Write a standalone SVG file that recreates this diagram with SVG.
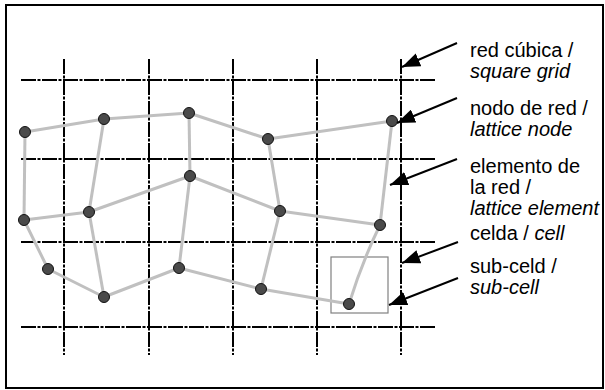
<svg xmlns="http://www.w3.org/2000/svg" width="605" height="390" viewBox="0 0 605 390">
<style>
.grid{stroke:#000;stroke-width:2;stroke-dasharray:15 1.5 3 1.5;fill:none}
.edge{stroke:#c0c0c0;stroke-width:3;fill:none;stroke-linejoin:round}
.node{fill:#4a4a4a;stroke:#111;stroke-width:1}
.lead{stroke:#000;stroke-width:2;fill:none}
.t{font-family:"Liberation Sans",Arial,sans-serif;font-size:20px;fill:#000}
.i{font-style:italic}
</style>
<defs>
<marker id="ahb" viewBox="0 0 18 14" refX="18" refY="7" markerWidth="18" markerHeight="14" orient="auto" markerUnits="userSpaceOnUse">
<path d="M0,0 L18,7 L0,14 Z" fill="#000"/>
</marker>
</defs>
<rect x="6" y="5" width="597" height="383" fill="#fff" stroke="#000" stroke-width="2"/>
<g id="grid">
<line class="grid" x1="21" y1="80" x2="436" y2="80"/>
<line class="grid" x1="21" y1="159" x2="436" y2="159"/>
<line class="grid" x1="21" y1="242" x2="436" y2="242"/>
<line class="grid" x1="21" y1="327" x2="436" y2="327"/>
<line class="grid" x1="64" y1="59" x2="64" y2="355"/>
<line class="grid" x1="149" y1="59" x2="149" y2="355"/>
<line class="grid" x1="233" y1="59" x2="233" y2="355"/>
<line class="grid" x1="317" y1="59" x2="317" y2="355"/>
<line class="grid" x1="401" y1="59" x2="401" y2="355"/>
</g>
<g id="subcell">
<rect x="331" y="257" width="57" height="56" fill="none" stroke="#808080" stroke-width="1.2"/>
</g>
<g id="connectors">
<polyline class="edge" points="25,132 104,119 189,113 268,139 392,121"/>
<polyline class="edge" points="24,220 89,212 190,176 280,211 380,225"/>
<polyline class="edge" points="24,220 48,269 104,297 179,268 261,289 349,304"/>
<line class="edge" x1="25" y1="132" x2="24" y2="220"/>
<line class="edge" x1="104" y1="119" x2="89" y2="212"/>
<line class="edge" x1="189" y1="113" x2="190" y2="176"/>
<line class="edge" x1="268" y1="139" x2="280" y2="211"/>
<line class="edge" x1="392" y1="121" x2="380" y2="225"/>
<line class="edge" x1="89" y1="212" x2="104" y2="297"/>
<line class="edge" x1="190" y1="176" x2="179" y2="268"/>
<line class="edge" x1="280" y1="211" x2="261" y2="289"/>
<path class="edge" d="M380,225 Q362,262 349,304"/>
</g>
<g id="nodes">
<circle id="n1" class="node" cx="25" cy="132" r="5.5"/>
<circle id="n2" class="node" cx="104" cy="119" r="5.5"/>
<circle id="n3" class="node" cx="189" cy="113" r="5.5"/>
<circle id="n4" class="node" cx="268" cy="139" r="5.5"/>
<circle id="n5" class="node" cx="392" cy="121" r="5.5"/>
<circle id="n6" class="node" cx="24" cy="220" r="5.5"/>
<circle id="n7" class="node" cx="89" cy="212" r="5.5"/>
<circle id="n8" class="node" cx="190" cy="176" r="5.5"/>
<circle id="n9" class="node" cx="280" cy="211" r="5.5"/>
<circle id="n10" class="node" cx="380" cy="225" r="5.5"/>
<circle id="n11" class="node" cx="48" cy="269" r="5.5"/>
<circle id="n12" class="node" cx="104" cy="297" r="5.5"/>
<circle id="n13" class="node" cx="179" cy="268" r="5.5"/>
<circle id="n14" class="node" cx="261" cy="289" r="5.5"/>
<circle id="n15" class="node" cx="349" cy="304" r="5.5"/>
</g>
<g id="leaders">
<line class="lead" x1="457" y1="43" x2="402" y2="67" marker-end="url(#ahb)"/>
<line class="lead" x1="457" y1="98" x2="397" y2="123" marker-end="url(#ahb)"/>
<line class="lead" x1="457" y1="159" x2="390" y2="185" marker-end="url(#ahb)"/>
<line class="lead" x1="458" y1="242" x2="402" y2="263" marker-end="url(#ahb)"/>
<line class="lead" x1="458" y1="278" x2="389" y2="305" marker-end="url(#ahb)"/>
</g>
<g id="labels">
<text class="t" x="470" y="57">red cúbica /</text>
<text class="t i" x="470" y="78">square grid</text>
<text class="t" x="470" y="115">nodo de red /</text>
<text class="t i" x="470" y="136">lattice node</text>
<text class="t" x="470" y="173">elemento de</text>
<text class="t" x="470" y="194">la red /</text>
<text class="t i" x="470" y="215">lattice element</text>
<text class="t" x="470" y="240">celda / <tspan class="i">cell</tspan></text>
<text class="t" x="470" y="273">sub-celd /</text>
<text class="t i" x="470" y="294">sub-cell</text>
</g>
</svg>
